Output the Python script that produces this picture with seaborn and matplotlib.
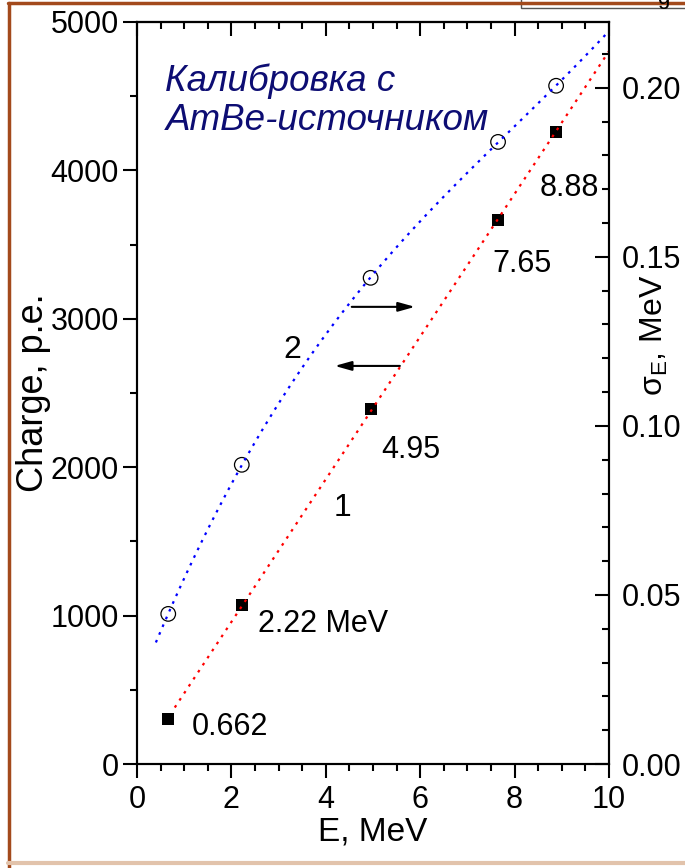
import numpy as np
import pandas as pd
import seaborn as sns
import matplotlib
matplotlib.use("Agg")
import matplotlib.pyplot as plt
from matplotlib.lines import Line2D
from matplotlib.patches import Rectangle
from matplotlib.ticker import MultipleLocator, FormatStrFormatter

# Calibration lines (MeV)
energy = [0.662, 2.22, 4.95, 7.65, 8.88]
# Charge collected, photoelectrons (left axis)
charge = [300, 1072, 2392, 3666, 4259]
# Energy resolution sigma_E, MeV (right axis)
sigma = [0.0444, 0.0885, 0.1438, 0.1840, 0.2006]
line_labels = ["0.662", "2.22 MeV", "4.95", "7.65", "8.88"]

sns.set_style("ticks")
plt.rcParams["font.family"] = ["Liberation Sans", "DejaVu Sans"]
plt.rcParams["mathtext.fontset"] = "custom"
plt.rcParams["mathtext.rm"] = "Liberation Sans"
plt.rcParams["mathtext.it"] = "Liberation Sans:italic"
for key in ("text.color", "axes.labelcolor", "xtick.color", "ytick.color", "axes.edgecolor"):
    plt.rcParams[key] = "black"

df = pd.DataFrame({"E": energy, "Q": charge, "S": sigma})

# linear fit of charge vs energy
k, b = np.polyfit(df.E, df.Q, 1)
e_lin = np.linspace(0.8, 10, 50)
fit_q = pd.DataFrame({"E": e_lin, "Q": k * e_lin + b})

# smooth fit of the resolution curve
c = np.polyfit(df.E, df.S, 3)
e_res = np.linspace(0.4, 10, 100)
fit_s = pd.DataFrame({"E": e_res, "S": np.polyval(c, e_res)})

fig = plt.figure(figsize=(6.85, 8.68), dpi=100)
ax = fig.add_axes([0.2, 0.1198, 0.689, 0.855])
ax2 = ax.twinx()

sns.scatterplot(data=df, x="E", y="Q", ax=ax, marker="s", s=80, color="black",
                edgecolor="black", linewidth=0, zorder=3)
sns.lineplot(data=fit_q, x="E", y="Q", ax=ax, color="#ff0000", lw=1.6,
             linestyle=(0, (1.2, 2.6)), zorder=4)

sns.scatterplot(data=df, x="E", y="S", ax=ax2, marker="o", s=110, facecolor="none",
                edgecolor="black", linewidth=0.9, zorder=3)
sns.lineplot(data=fit_s, x="E", y="S", ax=ax2, color="#0000ff", lw=1.6,
             linestyle=(0, (1.2, 2.6)), zorder=4)

ax.set_xlim(0, 10)
ax.set_ylim(0, 5000)
ax2.set_ylim(0, 0.2195)

ax.xaxis.set_major_locator(MultipleLocator(2))
ax.xaxis.set_minor_locator(MultipleLocator(0.5))
ax.yaxis.set_major_locator(MultipleLocator(1000))
ax.yaxis.set_minor_locator(MultipleLocator(500))
ax2.yaxis.set_major_locator(MultipleLocator(0.05))
ax2.yaxis.set_minor_locator(MultipleLocator(0.01))
ax2.yaxis.set_major_formatter(FormatStrFormatter("%.2f"))

ax.tick_params(axis="both", which="major", direction="out", length=10, width=1.5,
               labelsize=22, colors="black")
ax.tick_params(axis="both", which="minor", direction="out", length=5, width=1.5)
ax.tick_params(axis="y", which="major", pad=3)
ax.tick_params(axis="x", which="major", pad=5)
ax.tick_params(right=False, top=False)
ax2.tick_params(axis="y", which="major", direction="in", length=10, width=1.5,
                labelsize=22, pad=9, colors="black")
ax2.tick_params(axis="y", which="minor", direction="in", length=5, width=1.5)

# top axis: inward ticks, no labels
top = ax.secondary_xaxis("top")
top.xaxis.set_major_locator(MultipleLocator(2))
top.xaxis.set_minor_locator(MultipleLocator(0.5))
top.tick_params(which="major", direction="in", length=10, width=1.5, labeltop=False)
top.tick_params(which="minor", direction="in", length=5, width=1.5)

for a in (ax, ax2):
    for sp in a.spines.values():
        sp.set_linewidth(1.5)
        sp.set_color("black")
top.spines["top"].set_linewidth(1.5)

ax.set_xlabel("E, MeV", fontsize=24, labelpad=1)
ax.set_ylabel("Charge, p.e.", fontsize=26, labelpad=0)
ax2.set_ylabel(r"$\mathregular{\sigma_E}$, MeV", fontsize=23)
ax2.yaxis.set_label_coords(1.064, 0.578)

# labels of the calibration lines
label_pos = [(1.17, 250), (2.56, 943), (5.17, 2116), (7.54, 3369), (8.54, 3881)]
for txt, (x, y) in zip(line_labels, label_pos):
    ax.text(x, y, txt, fontsize=22, va="center", ha="left")

ax.text(3.3, 2790, "2", fontsize=23, ha="center", va="center")
ax.text(4.36, 1725, "1", fontsize=23, ha="center", va="center")

ax.text(0.6, 4720, "Калибровка с\nAmBe-источником", fontsize=26.5, style="italic",
        color="#0d0d73", ha="left", va="top", linespacing=1.15)

# arrows pointing to the corresponding axes
arrow = dict(arrowstyle="-|>,head_length=1.0,head_width=0.28", color="black", lw=1.5,
             shrinkA=0, shrinkB=0)
ax.annotate("", xy=(5.89, 3080), xytext=(4.55, 3080), arrowprops=arrow)
ax.annotate("", xy=(4.19, 2682), xytext=(5.57, 2682), arrowprops=arrow)

# frame around the figure
fig.add_artist(Line2D([8 / 685, 1], [1 - 3 / 868, 1 - 3 / 868], color="#a34a1c", lw=2.5))
fig.add_artist(Line2D([9 / 685, 9 / 685], [1 - 3 / 868, 0], color="#a34a1c", lw=2.5))
fig.add_artist(Line2D([8 / 685, 1], [5 / 868, 5 / 868], color="#e2c3ab", lw=3))
fig.add_artist(Rectangle((521 / 685, 1 - 8 / 868), 170 / 685, 20 / 868,
                         transform=fig.transFigure, facecolor="white",
                         edgecolor="#555555", lw=1))
fig.text(663 / 685, 1 - 9 / 868, "g", fontsize=16, ha="center", va="bottom")

fig.savefig("out.png", dpi=100)
